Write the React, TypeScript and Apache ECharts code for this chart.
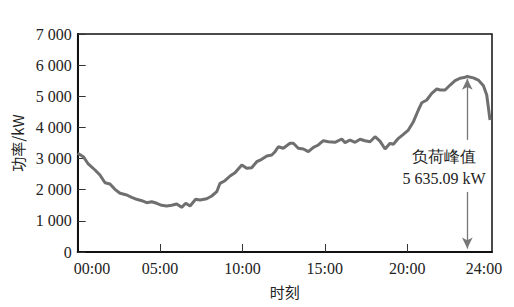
import React, { useEffect, useRef } from "react";
import * as echarts from "echarts";

// Time of day (hours) and load (kW)
const hours = [
  0.0, 0.34, 0.64, 1.05, 1.35, 1.66, 1.96, 2.26, 2.57, 2.98, 3.28, 3.58, 3.89, 4.19, 4.49, 4.8,
  5.1, 5.4, 5.71, 6.01, 6.31, 6.56, 6.82, 7.16, 7.43, 7.83, 8.14, 8.44, 8.64, 8.94, 9.25, 9.55,
  9.96, 10.26, 10.56, 10.87, 11.17, 11.48, 11.78, 11.98, 12.18, 12.48, 12.89, 13.09, 13.39, 13.7,
  14.0, 14.31, 14.61, 14.91, 15.22, 15.62, 16.03, 16.23, 16.53, 16.84, 17.14, 17.44, 17.75, 18.05,
  18.35, 18.66, 18.96, 19.16, 19.47, 19.77, 20.07, 20.38, 20.68, 20.89, 21.19, 21.49, 21.8, 22.0,
  22.3, 22.61, 22.91, 23.21, 23.45, 23.65, 24.02, 24.32, 24.63, 24.83, 25.03,
];
const load = [
  3169, 3060, 2826, 2633, 2472, 2225, 2183, 2013, 1885, 1830, 1756, 1692, 1647, 1583, 1615, 1564,
  1500, 1477, 1500, 1541, 1435, 1564, 1477, 1692, 1670, 1711, 1798, 1936, 2206, 2289, 2440, 2546,
  2794, 2688, 2707, 2900, 2977, 3083, 3115, 3221, 3381, 3330, 3490, 3490, 3330, 3307,
  3221, 3362, 3436, 3574, 3542, 3522, 3628, 3510, 3596, 3522, 3619, 3574, 3542, 3702,
  3560, 3307, 3490, 3458, 3651, 3779, 3917, 4184, 4560, 4794, 4881, 5096, 5234, 5202,
  5202, 5362, 5500, 5580, 5600, 5635, 5590, 5520, 5340, 5041, 4238,
];

const xLabelValues = [0.87, 5, 10, 15, 20, 24.67];
const xTickValues = [5, 10, 15, 20];
const peakHour = 23.65;
const peakText = "负荷峰值\n5 635.09 kW";

const FONT = "Liberation Serif, Times New Roman, Tinos, DejaVu Serif, Noto Serif, serif";
const CJK = "Noto Sans CJK SC, sans-serif";

export default function App() {
  const ref = useRef<HTMLDivElement>(null);
  useEffect(() => {
    if (!ref.current) return;
    const chart = echarts.init(ref.current, null, { renderer: "svg" });
    const data = hours.map((h, i) => [h, load[i]]);
    chart.setOption({
      animation: false,
      backgroundColor: "#fff",
      textStyle: { fontFamily: FONT },
      grid: {
        left: 77.7,
        right: 22,
        top: 34,
        bottom: 55,
        show: true,
        borderColor: "#111",
        borderWidth: 1.5,
        containLabel: false,
      },
      xAxis: {
        type: "value",
        min: 0,
        max: 25.15,
        name: "时刻",
        nameLocation: "middle",
        nameGap: 32,
        nameTextStyle: { fontFamily: CJK, fontSize: 15, color: "#222" },
        axisLine: { show: true, lineStyle: { color: "#111", width: 2 } },
        axisTick: {
          show: true,
          inside: true,
          length: 8,
          customValues: xTickValues,
          lineStyle: { color: "#333", width: 1 },
        },
        axisLabel: {
          customValues: xLabelValues,
          margin: 8,
          fontFamily: FONT,
          fontSize: 16,
          color: "#222",
          formatter: (v: number) => {
            const h = v < 2.5 ? 0 : v > 22.5 ? 24 : Math.round(v);
            return String(h).padStart(2, "0") + ":00";
          },
        },
        splitLine: { show: false },
      },
      yAxis: {
        type: "value",
        min: 0,
        max: 7000,
        interval: 1000,
        name: "功率/kW",
        nameLocation: "middle",
        nameGap: 50,
        nameTextStyle: { fontFamily: CJK, fontSize: 15, color: "#222" },
        axisLine: { show: true, lineStyle: { color: "#111", width: 2 } },
        axisTick: { show: true, inside: true, length: 8, lineStyle: { color: "#333", width: 1 } },
        axisLabel: {
          margin: 6,
          fontFamily: FONT,
          fontSize: 16,
          color: "#222",
          formatter: (v: number) =>
            v >= 1000 ? `${Math.floor(v / 1000)} ${String(v % 1000).padStart(3, "0")}` : String(v),
        },
        splitLine: { show: false },
      },
      series: [
        {
          type: "line",
          data,
          showSymbol: false,
          smooth: false,
          silent: true,
          lineStyle: { color: "#6f6f6f", width: 3 },
          markLine: {
            silent: true,
            symbol: ["none", "arrow"],
            symbolSize: [8, 11],
            label: { show: false },
            lineStyle: { color: "#777", width: 1.3, type: "solid" },
            data: [
              [{ coord: [peakHour, 3600] }, { coord: [peakHour, 5560] }],
              [{ coord: [peakHour, 1930] }, { coord: [peakHour, 110] }],
            ],
          },
          markPoint: {
            silent: true,
            symbol: "circle",
            symbolSize: 1,
            itemStyle: { color: "rgba(0,0,0,0)", borderWidth: 0 },
            data: [{ coord: [22.24, 2720] }],
            label: {
              show: true,
              position: "inside",
              formatter: peakText,
              fontFamily: FONT,
              fontSize: 16,
              lineHeight: 21.5,
              color: "#222",
              align: "center",
              verticalAlign: "middle",
            },
          },
        },
      ],
    });
    return () => chart.dispose();
  }, []);
  return (
    <div
      ref={ref}
      style={{ position: "fixed", left: 0, top: 0, width: 514, height: 307, background: "#fff" }}
    />
  );
}
